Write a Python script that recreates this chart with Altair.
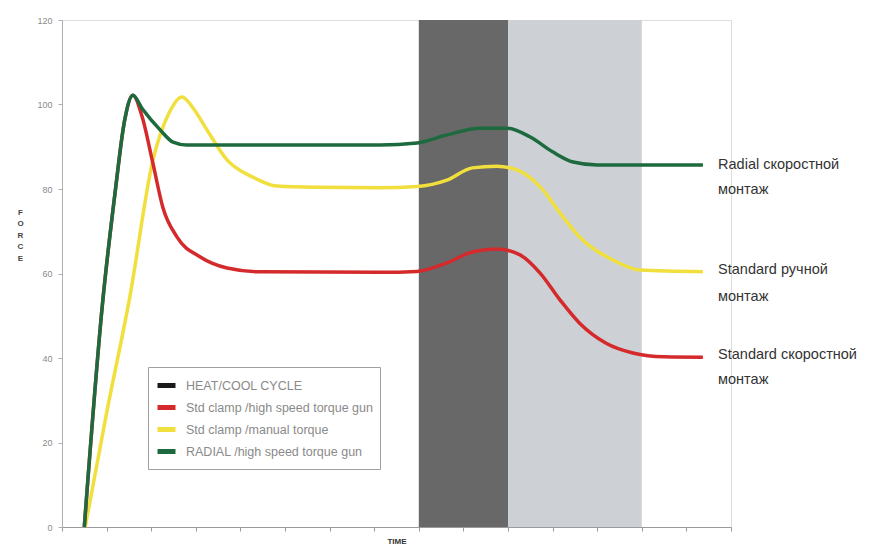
import altair as alt
import pandas as pd

# ---- data ----
series_names = [
    "HEAT/COOL CYCLE",
    "Std clamp /high speed torque gun",
    "Std clamp /manual torque",
    "RADIAL /high speed torque gun",
]
series_colors = ["#1a1a1a", "#d42a2c", "#f0df3c", "#1c6a3e"]

yellow_t = [0.52, 1.0, 1.52, 2.04, 2.4, 2.69, 2.95, 3.25, 3.7, 4.28, 4.82, 5.7, 7.13, 7.96, 8.63, 9.2, 9.75, 10.2, 10.72, 11.17, 11.6, 12.35, 12.96, 14.37]
yellow_v = [0, 27, 54.4, 86.9, 98, 101.8, 99, 94, 86.9, 82.8, 80.7, 80.4, 80.3, 80.6, 82.1, 85, 85.4, 84.5, 80.5, 74.3, 68.7, 63.2, 60.8, 60.4]

red_t = [0.5, 0.9, 1.2, 1.4, 1.59, 1.8, 2.04, 2.26, 2.58, 3.1, 3.7, 4.44, 7.13, 7.96, 8.63, 9.2, 9.75, 10.27, 10.72, 11.17, 11.6, 12.2, 12.8, 13.5, 14.37]
red_v = [0, 52, 80, 96, 102.2, 97, 86, 75.7, 68.6, 63.9, 61.3, 60.4, 60.3, 60.5, 62.5, 65.1, 65.8, 64.4, 60.1, 53.7, 48.3, 43.5, 41.2, 40.3, 40.2]

green_t = [0.5, 0.9, 1.2, 1.4, 1.59, 1.8, 2.2, 2.49, 2.8, 7.13, 7.96, 8.63, 9.37, 9.98, 10.5, 11.0, 11.46, 12.0, 14.37]
green_v = [0, 52, 80, 96, 102.2, 99, 94, 91.1, 90.4, 90.4, 90.9, 92.8, 94.4, 94.4, 92.3, 88.8, 86.4, 85.7, 85.7]

band_start = [8, 10]
band_end = [10, 13]
band_colors = ["#686868", "#cdd1d6"]

y_ticks = [0, 20, 40, 60, 80, 100, 120]
x_ticks = list(range(16))

label_lines = ["Radial  скоростной", "монтаж", "Standard  ручной", "монтаж", "Standard скоростной", "монтаж"]
label_y = [85.7, 79.8, 60.8, 54.4, 40.7, 34.8]
label_x = 14.71

# ---- tables ----
rows = []
for name, ts, vs in [
    (series_names[2], yellow_t, yellow_v),
    (series_names[1], red_t, red_v),
    (series_names[3], green_t, green_v),
]:
    for i, (t, v) in enumerate(zip(ts, vs)):
        rows.append({"series": name, "t": t, "v": v, "i": i})
lines_df = pd.DataFrame(rows)

bands_df = pd.DataFrame({
    "x0": band_start, "x1": band_end, "y0": [0, 0], "y1": [120, 120], "c": band_colors,
})
labels_df = pd.DataFrame({"x": [label_x] * len(label_lines), "y": label_y, "txt": label_lines})

xscale = alt.Scale(domain=[0, 15], nice=False, zero=False)
yscale = alt.Scale(domain=[0, 120], nice=False)

bands = alt.Chart(bands_df).mark_rect().encode(
    x=alt.X("x0:Q", scale=xscale,
            axis=alt.Axis(values=x_ticks, labels=False, tickSize=4, grid=False,
                          domainColor="#9a9a9a", tickColor="#9a9a9a",
                          title="TIME", titleFontSize=8, titleFontWeight="bold",
                          titleColor="#333", titlePadding=6, titleFont="Liberation Sans")),
    x2="x1:Q",
    y=alt.Y("y0:Q", scale=yscale,
            axis=alt.Axis(values=y_ticks, tickSize=4, grid=False, labelFontSize=9,
                          labelColor="#8a8a8a", labelPadding=6, labelFont="Liberation Sans",
                          domainColor="#b0b0b0", tickColor="#b0b0b0",
                          title=["F", "O", "R", "C", "E"], titleAngle=0, titleFontSize=8,
                          titleFontWeight="bold", titleColor="#444", titleX=-42, titleY=188,
                          titleAlign="center", titleBaseline="top", titleLineHeight=11.5,
                          titleFont="Liberation Sans")),
    y2="y1:Q",
    color=alt.Color("c:N", scale=None),
)

lines = alt.Chart(lines_df).mark_line(interpolate="monotone", strokeWidth=3.5).encode(
    x=alt.X("t:Q", scale=xscale),
    y=alt.Y("v:Q", scale=yscale),
    order="i:Q",
    color=alt.Color("series:N",
                    scale=alt.Scale(domain=series_names, range=series_colors),
                    legend=alt.Legend(orient="none", legendX=86, legendY=347, title=None,
                                      symbolType="stroke", symbolSize=324, symbolStrokeWidth=5,
                                      labelFontSize=12.5, labelColor="#8a8a8a",
                                      labelFont="Liberation Sans", rowPadding=-4,
                                      labelLimit=400,
                                      strokeColor="#a0a0a0", fillColor="white",
                                      padding=7, labelOffset=8)),
)

texts = alt.Chart(labels_df).mark_text(
    align="left", baseline="middle", fontSize=14.5, color="#333",
    font="Liberation Sans",
).encode(
    x=alt.X("x:Q", scale=xscale),
    y=alt.Y("y:Q", scale=yscale),
    text="txt:N",
)

chart = alt.layer(bands, lines, texts).properties(
    width=669, height=507,
    autosize=alt.AutoSizeParams(type="none"),
    padding={"left": 54, "top": 12, "right": 130, "bottom": 18},
).configure_view(stroke=None).configure(background="white")

chart.save("out.html", embed_options={"renderer": "svg", "actions": False})
